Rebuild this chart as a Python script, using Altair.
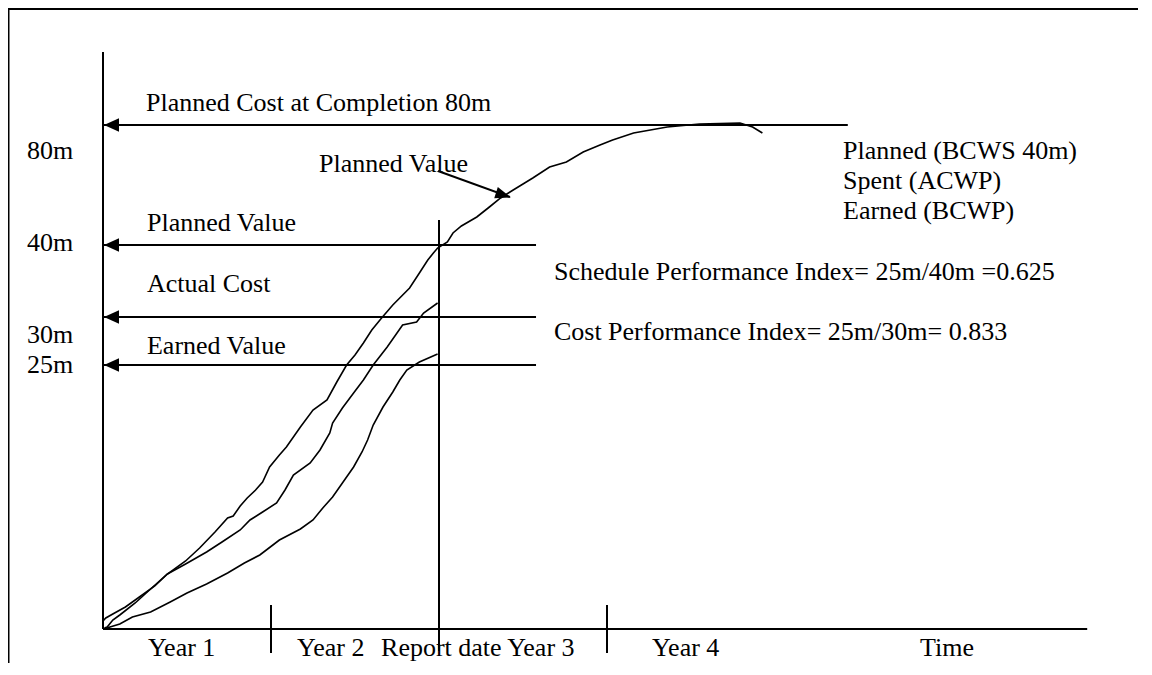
import altair as alt
import pandas as pd

# ---- Data (time in months from project start, value as schematic level) ----
pv_month = [0, 0.2, 0.7, 1.6, 2.6, 3.7, 4.6, 5.9, 6.9, 8.0, 8.9, 9.3, 9.8, 10.3, 10.9,
            11.4, 11.9, 12.6, 13.1, 14.1, 15.0, 16.0, 16.7, 17.4, 18.0, 18.6, 19.2, 19.9,
            20.7, 21.9, 22.6, 23.2, 23.6, 23.9, 24.6, 25.0, 25.6, 26.7, 27.6, 28.4, 29.3,
            30.0, 30.7, 31.9, 33.1, 34.3, 35.5, 36.4, 37.9, 40.3, 42.6, 45.5, 46.4, 47.1]
pv_level = [8, 11, 15, 22, 32, 43, 55, 68, 81, 97, 111, 113, 123, 131, 139,
            147, 162, 174, 182, 202, 219, 229, 247, 264, 274, 286, 299, 311,
            324, 341, 356, 369, 376, 381, 387, 396, 403, 412, 422, 431, 439,
            445, 451, 462, 467, 477, 484, 489, 496, 502, 505, 506, 502, 496]

ac_month = [0.1, 0.3, 0.7, 1.2, 2.3, 3.4, 4.6, 5.9, 7.4, 8.5, 9.8, 10.5, 11.4, 12.4, 13.0,
            13.6, 14.8, 15.5, 16.2, 16.4, 17.1, 17.9, 18.6, 19.3, 20.3, 21.4, 22.4, 22.9, 23.9]
ac_level = [1, 2, 9, 14, 26, 40, 55, 65, 77, 87, 99, 109, 117, 126, 139,
            154, 166, 179, 196, 206, 221, 236, 249, 264, 282, 304, 307, 316, 326]

ev_month = [0.1, 0.5, 1.2, 2.1, 3.4, 4.8, 6.0, 7.4, 8.9, 10.1, 11.2, 12.6, 14.1, 15.0,
            15.7, 16.4, 17.1, 17.9, 18.5, 18.9, 19.3, 20.0, 20.7, 21.2, 21.7, 22.6, 23.9]
ev_level = [0, 2, 5, 12, 17, 27, 36, 45, 56, 66, 74, 89, 100, 109,
            121, 132, 146, 162, 177, 189, 204, 222, 237, 249, 259, 267, 275]

# horizontal reference arrows: level and end month
ref_level = [504, 384, 312, 264]
ref_end = [53.2, 30.93, 30.93, 30.93]

# year ticks and report date (months)
year_ticks = [12, 36]
report_month = 24
axis_end = 70.3
yaxis_top = 577

# "Planned Value" pointer arrow
ptr_month = [23.93, 29.07]
ptr_level = [458, 432]

label_text = [
    "Planned Cost at Completion 80m", "80m", "Planned Value",
    "Planned (BCWS 40m)", "Spent (ACWP)", "Earned (BCWP)",
    "Planned Value", "40m", "Actual Cost", "30m", "Earned Value", "25m",
    "Schedule Performance Index= 25m/40m =0.625",
    "Cost Performance Index= 25m/30m= 0.833",
    "Year 1", "Year 2", "Report date Year 3", "Year 4", "Time",
]
label_month = [3.07, -5.43, 15.43, 52.86, 52.86, 52.86, 3.14, -5.43, 3.14, -5.43, 3.14, -5.43,
               32.21, 32.21, 3.21, 13.86, 19.86, 39.21, 58.36]
label_level = [518, 470, 457, 470, 440, 410, 398, 378, 337, 286, 275, 256,
               349, 289, -27, -27, -27, -27, -27]

# ---- Scales ----
W, H = 1130, 655
XMIN = -95 / 14
XMAX = XMIN + W / 14
YMAX = 621
YMIN = YMAX - H
xs = alt.Scale(domain=[XMIN, XMAX], nice=False, zero=False)
ys = alt.Scale(domain=[YMIN, YMAX], nice=False, zero=False)


def X(f):
    return alt.X(f, type="quantitative", scale=xs, axis=None)


def Y(f):
    return alt.Y(f, type="quantitative", scale=ys, axis=None)


FONT = "Liberation Serif"

# ---- Frame (top and left border) ----
frame_h = alt.Chart(pd.DataFrame({"x0": [XMIN], "x1": [XMAX], "y": [YMAX]})).mark_rule(
    color="black", strokeWidth=4).encode(x=X("x0"), x2="x1", y=Y("y"))
frame_v = alt.Chart(pd.DataFrame({"x": [XMIN], "y0": [YMIN], "y1": [YMAX]})).mark_rule(
    color="black", strokeWidth=3).encode(x=X("x"), y=Y("y0"), y2="y1")

# ---- Axes ----
yaxis = alt.Chart(pd.DataFrame({"x": [0], "y0": [0], "y1": [yaxis_top]})).mark_rule(
    color="black", strokeWidth=2).encode(x=X("x"), y=Y("y0"), y2="y1")
xaxis = alt.Chart(pd.DataFrame({"x0": [0], "x1": [axis_end], "y": [0]})).mark_rule(
    color="black", strokeWidth=2).encode(x=X("x0"), x2="x1", y=Y("y"))
ticks = alt.Chart(pd.DataFrame({"x": year_ticks, "y0": [24] * 2, "y1": [-24] * 2})).mark_rule(
    color="black", strokeWidth=2).encode(x=X("x"), y=Y("y0"), y2="y1")
report = alt.Chart(pd.DataFrame({"x": [report_month], "y0": [409], "y1": [-22]})).mark_rule(
    color="black", strokeWidth=2).encode(x=X("x"), y=Y("y0"), y2="y1")

# ---- Reference arrows ----
refs = pd.DataFrame({"x0": [0] * 4, "x1": ref_end, "y": ref_level})
ref_lines = alt.Chart(refs).mark_rule(color="black", strokeWidth=2).encode(
    x=X("x0"), x2="x1", y=Y("y"))
heads = pd.DataFrame({"x": [0.607] * 4, "y": ref_level})
ref_heads = alt.Chart(heads).mark_point(
    shape="M-1,0L1,-0.9L1,0.9Z", size=225, filled=True, color="black", opacity=1,
    strokeWidth=0).encode(x=X("x"), y=Y("y"))

# ---- Curves ----
curves = pd.concat([
    pd.DataFrame({"month": pv_month, "level": pv_level, "series": "PV",
                  "idx": range(len(pv_month))}),
    pd.DataFrame({"month": ac_month, "level": ac_level, "series": "AC",
                  "idx": range(len(ac_month))}),
    pd.DataFrame({"month": ev_month, "level": ev_level, "series": "EV",
                  "idx": range(len(ev_month))}),
])
curve_lines = alt.Chart(curves).mark_line(color="black", strokeWidth=1.6).encode(
    x=X("month"), y=Y("level"), detail="series:N", order="idx:Q")

# ---- Pointer arrow ----
ptr = alt.Chart(pd.DataFrame({"x0": [ptr_month[0]], "x1": [ptr_month[1]],
                              "y0": [ptr_level[0]], "y1": [ptr_level[1]]})).mark_rule(
    color="black", strokeWidth=2).encode(x=X("x0"), x2="x1", y=Y("y0"), y2="y1")
ptr_head = alt.Chart(pd.DataFrame({"x": [28.6], "y": [434]})).mark_point(
    shape="M1,0L-1,-0.75L-1,0.75Z", size=240, filled=True, color="black", opacity=1,
    strokeWidth=0, angle=18).encode(x=X("x"), y=Y("y"))

# ---- Labels ----
labels = pd.DataFrame({"text": label_text, "month": label_month, "level": label_level})
text = alt.Chart(labels).mark_text(
    align="left", baseline="alphabetic", font=FONT, fontSize=26, color="black").encode(
    x=X("month"), y=Y("level"), text="text:N")

chart = alt.layer(
    yaxis, xaxis, ticks, report, ref_lines, ref_heads,
    curve_lines, ptr, ptr_head, text, frame_h, frame_v,
).properties(
    width=W, height=H, padding=0, autosize="none",
).configure_view(strokeWidth=0, stroke="transparent", fill="white")

chart.save("out.html", embed_options={"renderer": "svg", "actions": False})
